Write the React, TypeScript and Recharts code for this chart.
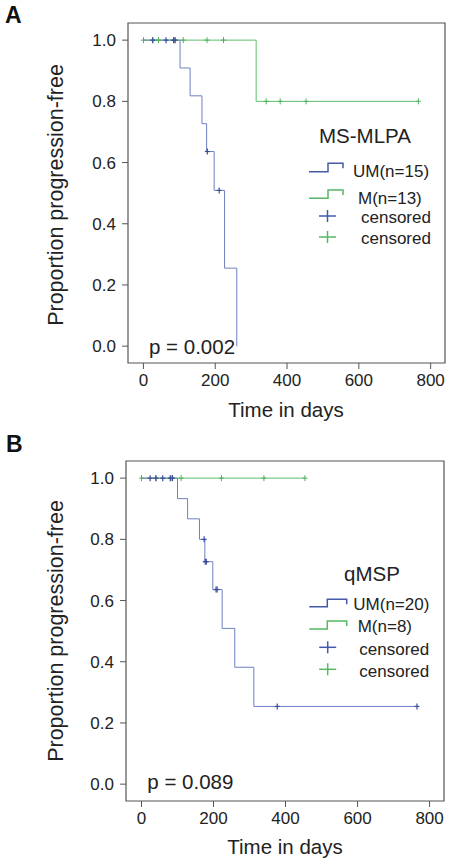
import React from 'react';
import { ComposedChart, Line, Scatter, XAxis, YAxis, ReferenceArea } from 'recharts';

const FONT = '"Liberation Sans", Arial, Helvetica, sans-serif';

// ---- shared axis ticks ----
const dayTicks = [0, 200, 400, 600, 800];
const propTicks = [0, 0.2, 0.4, 0.6, 0.8, 1.0];
const xDomain = [-43, 840];
const yDomain = [-0.055, 1.056];

// ---- Panel A: MS-MLPA ----
const aUmTime = [0, 102, 130, 163, 176, 197, 226, 260];
const aUmSurv = [1, 0.909, 0.818, 0.727, 0.636, 0.509, 0.255, 0];
const aUmCensTime = [26, 63, 84, 88, 178, 211];
const aUmCensSurv = [1, 1, 1, 1, 0.636, 0.509];
const aMTime = [0, 314, 766];
const aMSurv = [1, 0.8, 0.8];
const aMCensTime = [0, 26, 42, 84, 88, 111, 177, 223, 342, 381, 453, 766];
const aMCensSurv = [1, 1, 1, 1, 1, 1, 1, 1, 0.8, 0.8, 0.8, 0.8];

// ---- Panel B: qMSP ----
const bUmTime = [0, 100, 128, 161, 176, 198, 224, 259, 312, 765];
const bUmSurv = [1, 0.933, 0.867, 0.8, 0.727, 0.636, 0.509, 0.382, 0.254, 0.254];
const bUmCensTime = [24, 40, 59, 80, 86, 174, 177, 180, 207, 210, 377, 765];
const bUmCensSurv = [1, 1, 1, 1, 1, 0.8, 0.727, 0.727, 0.636, 0.636, 0.254, 0.254];
const bMTime = [0, 454];
const bMSurv = [1, 1];
const bMCensTime = [0, 40, 82, 86, 110, 222, 340, 454];
const bMCensSurv = [1, 1, 1, 1, 1, 1, 1, 1];

const zip = (t: number[], s: number[]) => t.map((v, i) => ({ t: v, s: s[i] }));

const LINE_BLUE = '#6e80c0';
const MARK_BLUE = '#3d4d9c';
const LINE_GREEN = '#5fbf6d';
const MARK_GREEN = '#4fb05e';
const LEG_BLUE = '#4459a8';
const LEG_GREEN = '#56b862';
const FRAME = '#555';
const TEXT = '#222';

const Plus = (color: string, hw: number, hh: number, w: number) => (props: any) => {
  const { cx, cy } = props;
  if (cx == null || cy == null) return null;
  return (
    <g>
      <line x1={cx - hw} x2={cx + hw} y1={cy} y2={cy} stroke={color} strokeWidth={w} />
      <line x1={cx} x2={cx} y1={cy - hh} y2={cy + hh} stroke={color} strokeWidth={w} />
    </g>
  );
};

const panels = [
  {
    letter: 'A',
    title: 'MS-MLPA',
    umLabel: 'UM(n=15)',
    mLabel: 'M(n=13)',
    pText: 'p = 0.002',
    um: zip(aUmTime, aUmSurv),
    umC: zip(aUmCensTime, aUmCensSurv),
    m: zip(aMTime, aMSurv),
    mC: zip(aMCensTime, aMCensSurv),
    margin: { top: 23, right: 7, left: 0, bottom: 9 },
    yWidth: 128,
    lay: {
      letterX: 5, letterY: 23,
      titleX: 365, titleY: 143,
      umLow: 171.7, umHigh: 163.3, umTextY: 177, mLow: 198.3, mHigh: 190, mTextY: 204,
      symX0: 309, symXs: 328, symX1: 343, umTextX: 353, mTextX: 358,
      plusX: 327.5, plusY1: 216, plusY2: 237, censX: 361, censY1: 222.5, censY2: 243.5,
      pX: 149, pY: 354,
      yTitleX: 63, yTitleY: 195,
      xTitleX: 286, xTitleY: 417,
    },
  },
  {
    letter: 'B',
    title: 'qMSP',
    umLabel: 'UM(n=20)',
    mLabel: 'M(n=8)',
    pText: 'p = 0.089',
    um: zip(bUmTime, bUmSurv),
    umC: zip(bUmCensTime, bUmCensSurv),
    m: zip(bMTime, bMSurv),
    mC: zip(bMCensTime, bMCensSurv),
    margin: { top: 29, right: 8, left: 0, bottom: 3 },
    yWidth: 126,
    lay: {
      letterX: 6, letterY: 20,
      titleX: 372, titleY: 148.7,
      umLow: 174.7, umHigh: 167.3, umTextY: 178, mLow: 197, mHigh: 189, mTextY: 200,
      symX0: 309.3, symXs: 327.3, symX1: 346.7, umTextX: 353.3, mTextX: 357.7,
      plusX: 327.7, plusY1: 215.3, plusY2: 237.3, censX: 359.3, censY1: 223, censY2: 245,
      pX: 147.3, pY: 357.3,
      yTitleX: 63, yTitleY: 199,
      xTitleX: 285, xTitleY: 422,
    },
  },
];

function Panel({ p }: { p: any }) {
  const L = p.lay;
  const tickStyle = { fill: TEXT, fontSize: 17, fontFamily: FONT };
  return (
    <div style={{ position: 'relative', width: 452, height: 432 }}>
      <ComposedChart width={452} height={432} margin={p.margin}>
        <XAxis
          type="number"
          dataKey="t"
          domain={xDomain}
          ticks={dayTicks}
          allowDataOverflow
          height={60}
          axisLine={false}
          tickLine={{ stroke: FRAME }}
          tickSize={6}
          tickMargin={5}
          tick={tickStyle}
        />
        <YAxis
          type="number"
          dataKey="s"
          domain={yDomain}
          ticks={propTicks}
          allowDataOverflow
          width={p.yWidth}
          axisLine={false}
          tickLine={{ stroke: FRAME }}
          tickSize={6}
          tickMargin={6}
          tick={tickStyle}
          tickFormatter={(v: number) => v.toFixed(1)}
        />
        <ReferenceArea x1={xDomain[0]} x2={xDomain[1]} y1={yDomain[0]} y2={yDomain[1]} fill="none" stroke={FRAME} strokeWidth={1.2} ifOverflow="visible" />
        <Line data={p.m} dataKey="s" type="stepAfter" stroke={LINE_GREEN} strokeWidth={1} dot={false} isAnimationActive={false} />
        <Line data={p.um} dataKey="s" type="stepAfter" stroke={LINE_BLUE} strokeWidth={1} dot={false} isAnimationActive={false} />
        <Scatter data={p.mC} dataKey="s" shape={Plus(MARK_GREEN, 2.5, 3, 1)} isAnimationActive={false} />
        <Scatter data={p.umC} dataKey="s" shape={Plus(MARK_BLUE, 2.5, 3, 1.2)} isAnimationActive={false} />
      </ComposedChart>
      <svg width={452} height={432} style={{ position: 'absolute', left: 0, top: 0, pointerEvents: 'none' }}>
        <text x={L.letterX} y={L.letterY} fontFamily={FONT} fontWeight="bold" fontSize={23} fill="#111">{p.letter}</text>
        <text x={L.titleX} y={L.titleY} textAnchor="middle" fontFamily={FONT} fontSize={20.5} fill={TEXT}>{p.title}</text>
        <path d={`M${L.symX0},${L.umLow}H${L.symXs}V${L.umHigh}H${L.symX1}V${L.umHigh + 5}`} fill="none" stroke={LEG_BLUE} strokeWidth={1.5} />
        <text x={L.umTextX} y={L.umTextY} fontFamily={FONT} fontSize={17} fill={TEXT}>{p.umLabel}</text>
        <path d={`M${L.symX0},${L.mLow}H${L.symXs}V${L.mHigh}H${L.symX1}V${L.mHigh + 5}`} fill="none" stroke={LEG_GREEN} strokeWidth={1.5} />
        <text x={L.mTextX} y={L.mTextY} fontFamily={FONT} fontSize={17} fill={TEXT}>{p.mLabel}</text>
        <line x1={L.plusX - 8.5} x2={L.plusX + 8.5} y1={L.plusY1} y2={L.plusY1} stroke={LEG_BLUE} strokeWidth={1.5} />
        <line x1={L.plusX} x2={L.plusX} y1={L.plusY1 - 6} y2={L.plusY1 + 6} stroke={LEG_BLUE} strokeWidth={1.5} />
        <line x1={L.plusX - 8.5} x2={L.plusX + 8.5} y1={L.plusY2} y2={L.plusY2} stroke={LEG_GREEN} strokeWidth={1.5} />
        <line x1={L.plusX} x2={L.plusX} y1={L.plusY2 - 6} y2={L.plusY2 + 6} stroke={LEG_GREEN} strokeWidth={1.5} />
        <text x={L.censX} y={L.censY1} fontFamily={FONT} fontSize={17} fill={TEXT}>censored</text>
        <text x={L.censX} y={L.censY2} fontFamily={FONT} fontSize={17} fill={TEXT}>censored</text>
        <text x={L.pX} y={L.pY} fontFamily={FONT} fontSize={20.5} fill={TEXT}>{p.pText}</text>
        <text x={L.xTitleX} y={L.xTitleY} textAnchor="middle" fontFamily={FONT} fontSize={20.5} fill={TEXT}>Time in days</text>
        <text x={L.yTitleX} y={L.yTitleY} textAnchor="middle" fontFamily={FONT} fontSize={21.5} fill={TEXT} transform={`rotate(-90 ${L.yTitleX} ${L.yTitleY})`}>Proportion progression-free</text>
      </svg>
    </div>
  );
}

export default function App() {
  return (
    <div style={{ position: 'absolute', left: 0, top: 0, width: 452, height: 864, background: '#fff' }}>
      {panels.map((p) => (
        <Panel key={p.letter} p={p} />
      ))}
    </div>
  );
}
